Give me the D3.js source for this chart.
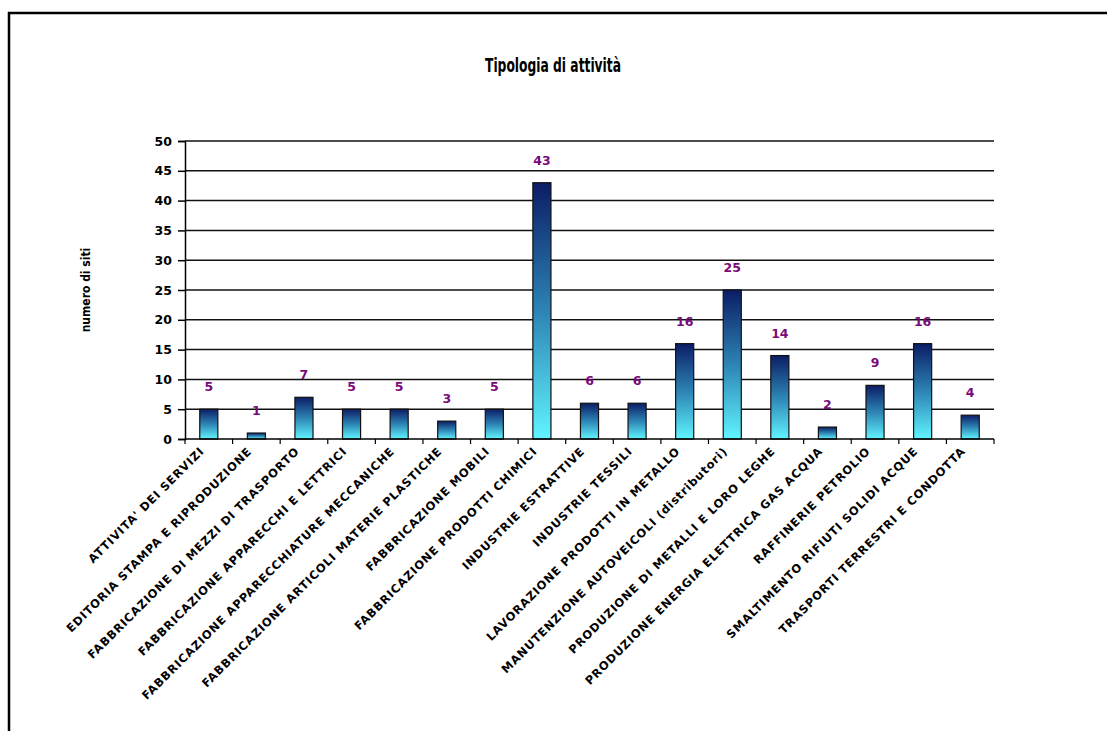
<!DOCTYPE html>
<html>
<head>
<meta charset="utf-8">
<script src="https://cdn.jsdelivr.net/npm/d3@7"></script>
<style>
  html, body { margin: 0; padding: 0; background: #fff; }
  svg { display: block; }
</style>
</head>
<body>
<svg id="chart" width="1107" height="731"></svg>
<script>
const categories = [
  "ATTIVITA' DEI SERVIZI",
  "EDITORIA STAMPA E RIPRODUZIONE",
  "FABBRICAZIONE DI MEZZI DI TRASPORTO",
  "FABBRICAZIONE APPARECCHI E LETTRICI",
  "FABBRICAZIONE APPARECCHIATURE MECCANICHE",
  "FABBRICAZIONE ARTICOLI MATERIE PLASTICHE",
  "FABBRICAZIONE MOBILI",
  "FABBRICAZIONE PRODOTTI CHIMICI",
  "INDUSTRIE ESTRATTIVE",
  "INDUSTRIE TESSILI",
  "LAVORAZIONE PRODOTTI IN METALLO",
  "MANUTENZIONE AUTOVEICOLI (distributori)",
  "PRODUZIONE DI METALLI E LORO LEGHE",
  "PRODUZIONE ENERGIA ELETTRICA GAS ACQUA",
  "RAFFINERIE PETROLIO",
  "SMALTIMENTO RIFIUTI SOLIDI ACQUE",
  "TRASPORTI TERRESTRI E CONDOTTA"
];
const values = [5, 1, 7, 5, 5, 3, 5, 43, 6, 6, 16, 25, 14, 2, 9, 16, 4];
const yTicks = [0, 5, 10, 15, 20, 25, 30, 35, 40, 45, 50];
const title = "Tipologia di attività";
const yTitle = "numero di siti";

(function () {
const svg = d3.select("#chart");

// frame
svg.append("path")
  .attr("d", "M9,731 L9,13 L1107,13")
  .attr("fill", "none").attr("stroke", "#000").attr("stroke-width", 2.5);

const defs = svg.append("defs");
const grad = defs.append("linearGradient").attr("id", "barGrad")
  .attr("x1", 0).attr("y1", 0).attr("x2", 0).attr("y2", 1);
grad.append("stop").attr("offset", "0%").attr("stop-color", "#0b1d66");
grad.append("stop").attr("offset", "50%").attr("stop-color", "#2d84b4");
grad.append("stop").attr("offset", "100%").attr("stop-color", "#60f4ff");

const pLeft = 185, pRight = 994, pTop = 141, pBottom = 439;

const x = d3.scaleBand().domain(categories).range([pLeft, pRight]).paddingInner(0.62).paddingOuter(0.31);
const y = d3.scaleLinear().domain([0, 50]).range([pBottom, pTop]);

// gridlines
svg.append("g").selectAll("line").data(yTicks.filter(d => d > 0)).join("line")
  .attr("x1", pLeft).attr("x2", pRight)
  .attr("y1", d => y(d)).attr("y2", d => y(d))
  .attr("stroke", "#111").attr("stroke-width", 1.5);

// y axis
const yAxis = svg.append("g").attr("transform", `translate(${pLeft},0)`)
  .call(d3.axisLeft(y).tickValues(yTicks).tickSize(7).tickPadding(6));
yAxis.select(".domain").attr("stroke", "#000").attr("stroke-width", 1.5);
yAxis.selectAll(".tick line").attr("stroke", "#000").attr("stroke-width", 1.5);
yAxis.selectAll("text")
  .attr("font-family", "'DejaVu Sans', sans-serif")
  .attr("font-weight", "bold").attr("font-size", 12.5).attr("fill", "#000");

// bars
svg.append("g").selectAll("rect").data(values).join("rect")
  .attr("x", (d, i) => x(categories[i]))
  .attr("width", x.bandwidth())
  .attr("y", d => y(d))
  .attr("height", d => y(0) - y(d))
  .attr("fill", "url(#barGrad)")
  .attr("stroke", "#111").attr("stroke-width", 1.2);

// x axis
const bounds = d3.range(categories.length + 1).map(i => pLeft + i * ((pRight - pLeft) / categories.length));
svg.append("line").attr("x1", pLeft).attr("x2", pRight).attr("y1", pBottom).attr("y2", pBottom)
  .attr("stroke", "#000").attr("stroke-width", 1.5);
svg.append("g").selectAll("line").data(bounds).join("line")
  .attr("x1", d => d).attr("x2", d => d).attr("y1", pBottom).attr("y2", pBottom + 5)
  .attr("stroke", "#000").attr("stroke-width", 1.2);

// category labels
svg.append("g").selectAll("text").data(categories).join("text")
  .attr("transform", d => `translate(${x(d) + x.bandwidth() / 2 - 4},${pBottom + 13}) rotate(-45)`)
  .attr("text-anchor", "end")
  .attr("font-family", "'DejaVu Sans', sans-serif")
  .attr("font-weight", "bold").attr("font-size", 11.5)
  .attr("letter-spacing", 0.8)
  .attr("fill", "#000")
  .text(d => d);

// value labels
svg.append("g").selectAll("text").data(values).join("text")
  .attr("x", (d, i) => x(categories[i]) + x.bandwidth() / 2)
  .attr("y", d => y(d) - 18)
  .attr("text-anchor", "middle")
  .attr("font-family", "'DejaVu Sans', sans-serif")
  .attr("font-weight", "bold").attr("font-size", 12.5)
  .attr("fill", "#7a0a7a")
  .text(d => d);

// title
svg.append("text").attr("x", 553).attr("y", 72)
  .attr("text-anchor", "middle")
  .attr("font-family", "'DejaVu Sans', sans-serif")
  .attr("font-weight", "bold").attr("font-size", 20)
  .attr("textLength", 136).attr("lengthAdjust", "spacingAndGlyphs")
  .text(title);

// y title
svg.append("text")
  .attr("transform", "translate(90,290) rotate(-90)")
  .attr("text-anchor", "middle")
  .attr("font-family", "'DejaVu Sans Condensed', 'DejaVu Sans', sans-serif")
  .attr("font-weight", "bold").attr("font-size", 12)
  .text(yTitle);
})();
</script>
</body>
</html>
